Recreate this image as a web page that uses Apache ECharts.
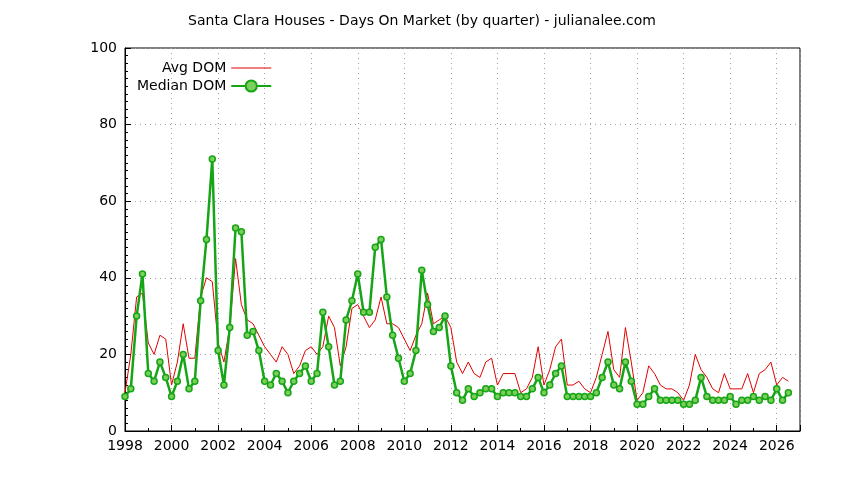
<!DOCTYPE html>
<html>
<head>
<meta charset="utf-8">
<script src="https://cdn.jsdelivr.net/npm/echarts@6/dist/echarts.min.js"></script>
<style>html,body{margin:0;background:#fff}#main{width:844px;height:480px}</style>
</head>
<body>
<div id="main"></div>
<script>
var startYear = 1998;
var medianDom = [
  9, 11, 30, 41,  15, 13, 18, 14,  9, 13, 20, 11,  13, 34, 50, 71,
  21, 12, 27, 53,  52, 25, 26, 21,  13, 12, 15, 13,  10, 13, 15, 17,
  13, 15, 31, 22,  12, 13, 29, 34,  41, 31, 31, 48,  50, 35, 25, 19,
  13, 15, 21, 42,  33, 26, 27, 30,  17, 10, 8, 11,  9, 10, 11, 11,
  9, 10, 10, 10,  9, 9, 11, 14,  10, 12, 15, 17,  9, 9, 9, 9,
  9, 10, 14, 18,  12, 11, 18, 13,  7, 7, 9, 11,  8, 8, 8, 8,
  7, 7, 8, 14,  9, 8, 8, 8,  9, 7, 8, 8,  9, 8, 9, 8,  11, 8, 10
];
var avgDom = [
  10, 20, 35, 36,  23, 20, 25, 24,  12, 18, 28, 19,  19, 35, 40, 39,
  23, 18, 27, 45,  33, 29, 28, 25,  22, 20, 18, 22,  20, 15, 17, 21,
  22, 20, 22, 30,  27, 17, 22, 32,  33, 30, 27, 29,  35, 28, 28, 27,
  24, 21, 25, 28,  36, 28, 29, 30,  27, 18, 15, 18,  15, 14, 18, 19,
  12, 15, 15, 15,  10, 11, 14, 22,  12, 16, 22, 24,  12, 12, 13, 11,
  10, 14, 20, 26,  16, 14, 27, 18,  8, 10, 17, 15,  12, 11, 11, 10,
  8, 12, 20, 16,  14, 11, 10, 15,  11, 11, 11, 15,  10, 15, 16, 18,  12, 14, 13
];
function toPairs(arr){
  return arr.map(function(v, i){ return [startYear + i * 0.25, v]; });
}
var chart = echarts.init(document.getElementById('main'));
var axisCommon = {
  axisLine: {show: true, lineStyle: {color: '#000', width: 1}},
  axisTick: {show: true, inside: true, length: 6, lineStyle: {color: '#000'}},
  minorTick: {show: true, length: 3, lineStyle: {color: '#000'}},
  axisLabel: {color: '#000', fontSize: 14, fontFamily: 'DejaVu Sans'},
  splitLine: {show: true, lineStyle: {color: '#a0a0a0', type: [1, 4]}}
};
chart.setOption({
  animation: false,
  title: {
    text: 'Santa Clara Houses - Days On Market (by quarter) - julianalee.com',
    left: 'center', top: 9,
    textStyle: {fontSize: 14, fontWeight: 'normal', color: '#000', fontFamily: 'DejaVu Sans'}
  },
  legend: {
    orient: 'vertical', left: 132, top: 56, align: 'right',
    itemWidth: 40, itemGap: 4,
    textStyle: {fontSize: 14, color: '#000', fontFamily: 'DejaVu Sans'},
    data: [{name: 'Avg DOM', icon: 'path://M0,5L40,5L40,6L0,6Z'}, {name: 'Median DOM'}]
  },
  grid: {left: 125, right: 44, top: 48, bottom: 49, show: true, borderColor: '#000', borderWidth: 1},
  xAxis: Object.assign({}, axisCommon, {
    type: 'value', min: 1998, max: 2027, interval: 2,
    minorTick: {show: true, splitNumber: 2, length: 3, lineStyle: {color: '#000'}},
    axisLabel: Object.assign({}, axisCommon.axisLabel, {
      formatter: function(v){ return v <= 2026 ? String(v) : ''; }
    })
  }),
  yAxis: Object.assign({}, axisCommon, {
    type: 'value', min: 0, max: 100, interval: 20,
    minorTick: {show: true, splitNumber: 10, length: 3, lineStyle: {color: '#000'}}
  }),
  series: [
    {
      name: 'Avg DOM', type: 'line', data: toPairs(avgDom),
      showSymbol: false, lineStyle: {color: '#e00000', width: 1}, itemStyle: {color: '#e00000'}
    },
    {
      name: 'Median DOM', type: 'line', data: toPairs(medianDom),
      symbol: 'circle', symbolSize: 6,
      lineStyle: {color: '#16a516', width: 2.5},
      itemStyle: {color: '#7ccf5a', borderColor: '#16a516', borderWidth: 1.5}
    }
  ]
});
</script>
</body>
</html>
